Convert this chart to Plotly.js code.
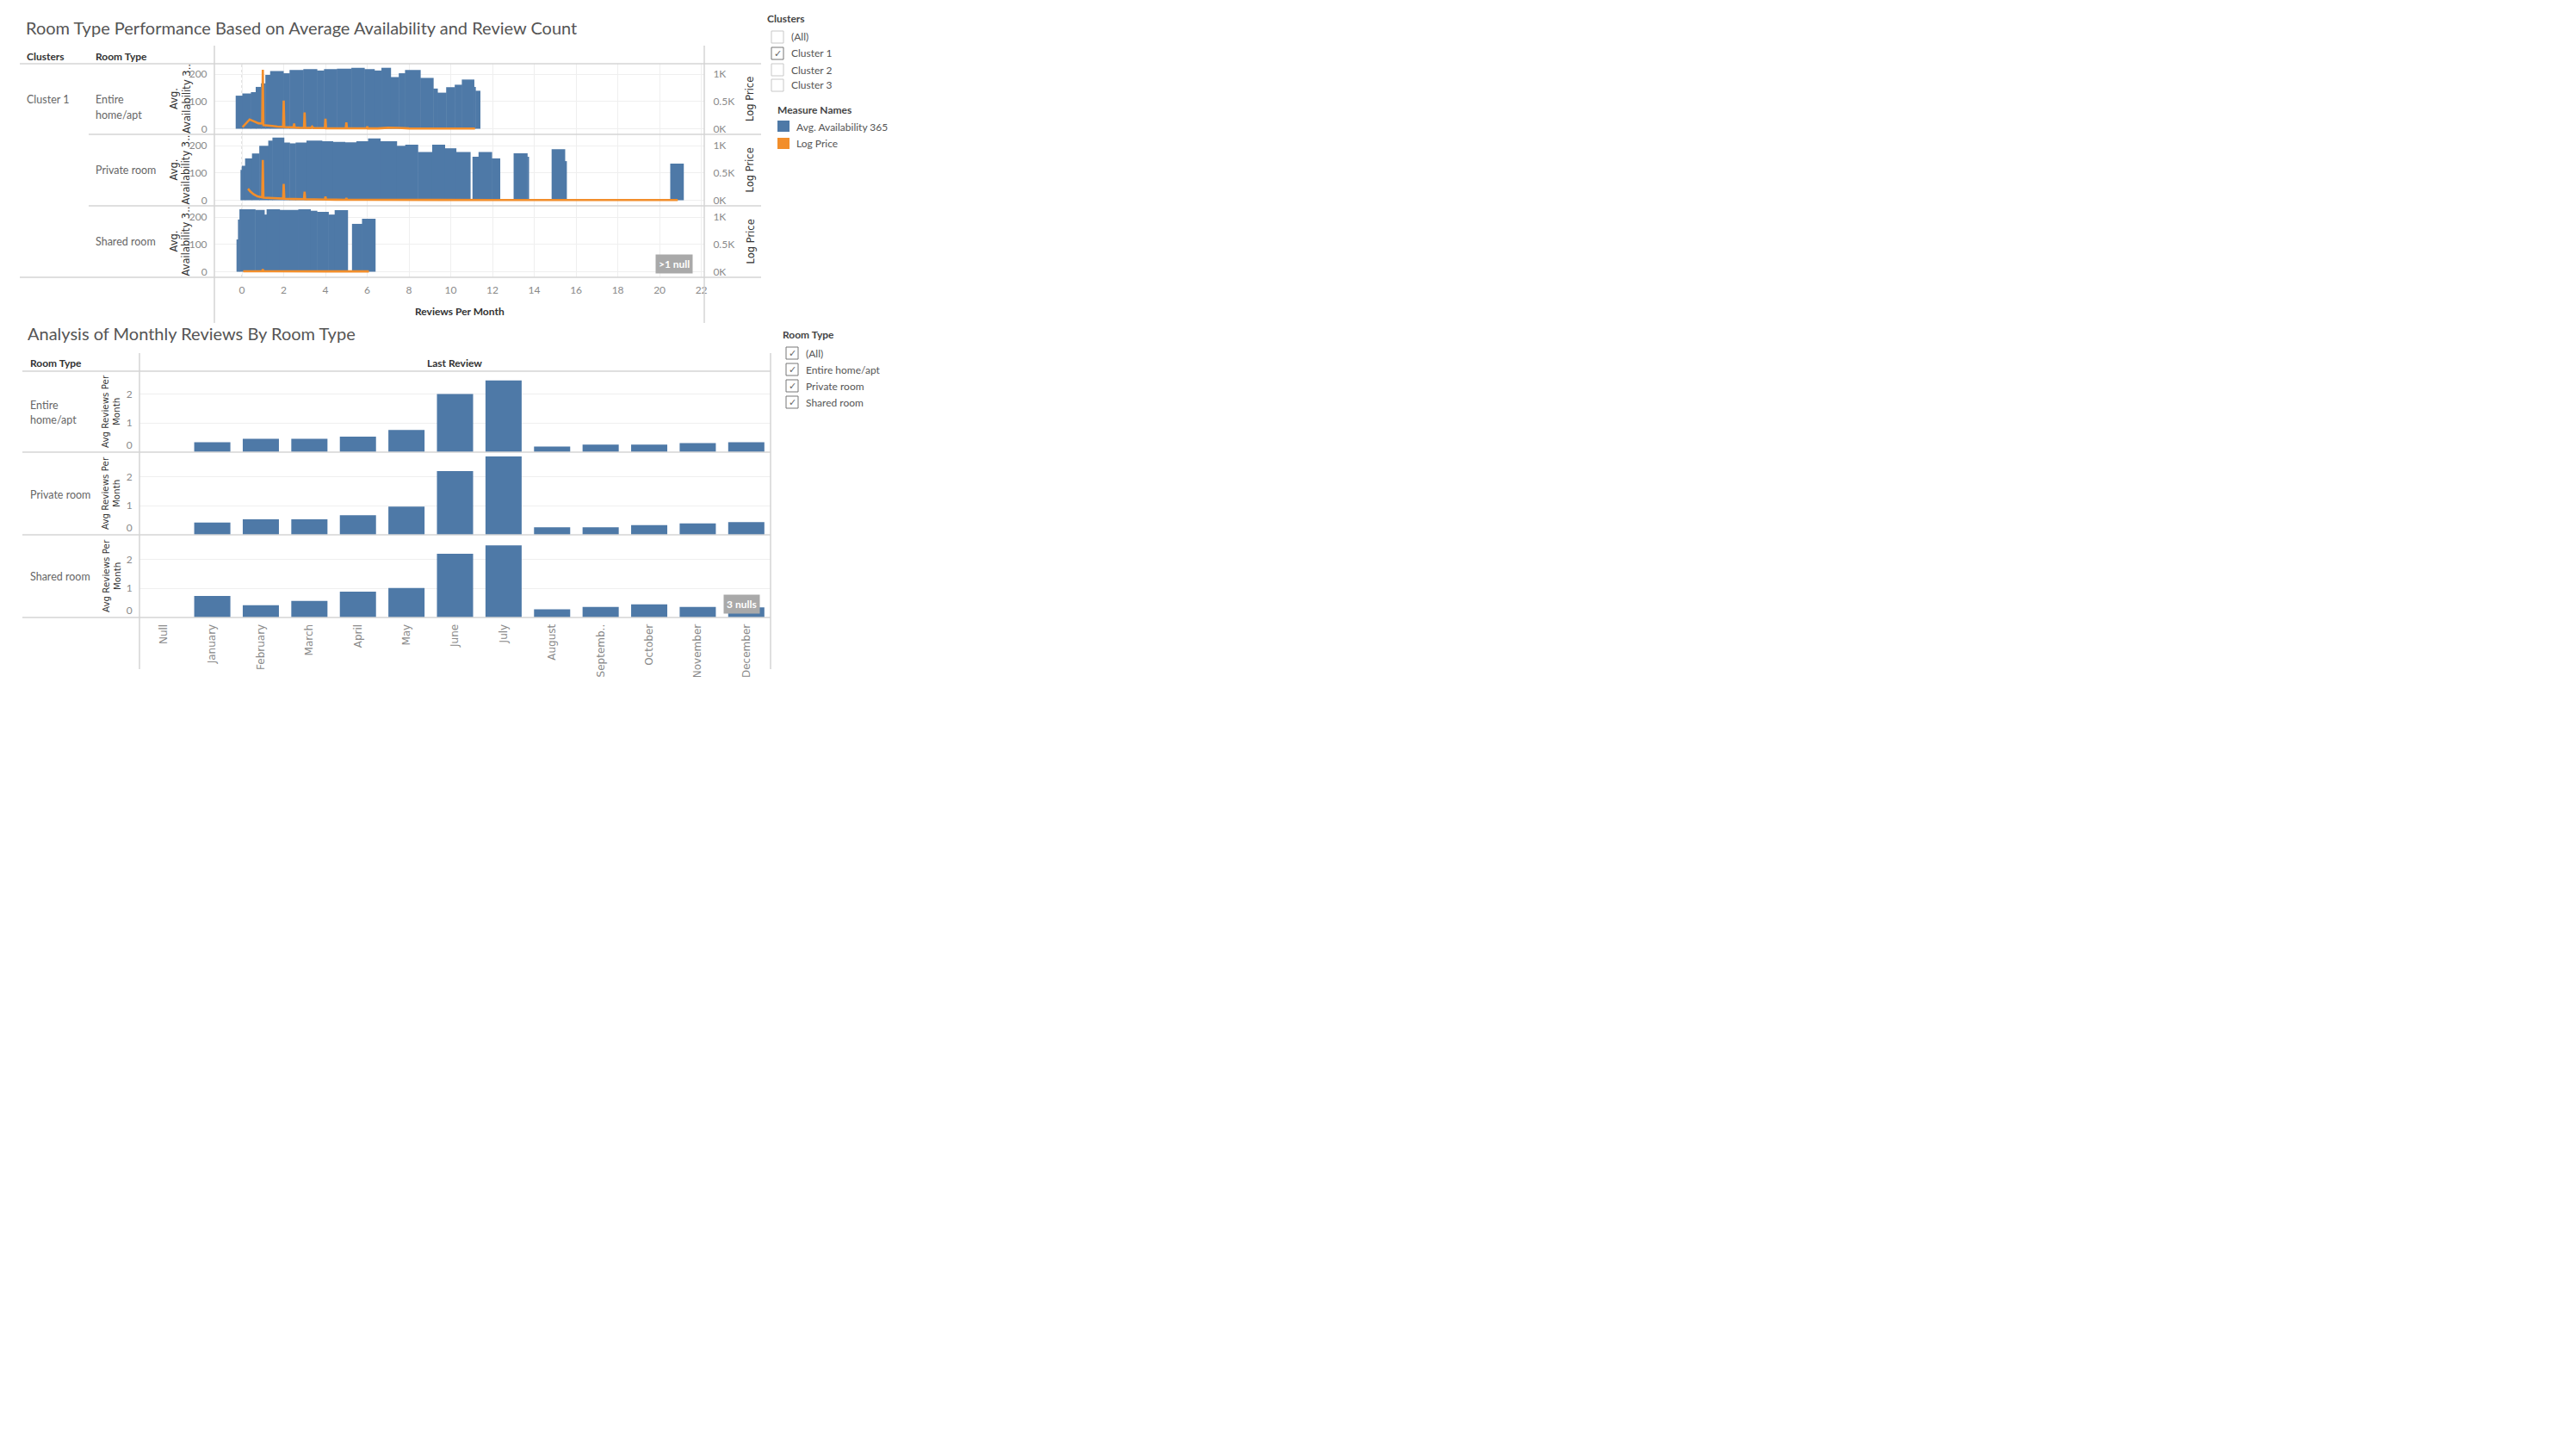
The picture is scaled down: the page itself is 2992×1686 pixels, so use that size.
<!DOCTYPE html>
<html><head><meta charset="utf-8">
<script src="https://cdn.plot.ly/plotly-3.0.1.min.js"></script>
<style>html,body{margin:0;padding:0;background:#fff;}#chart{width:2992px;height:1686px;}</style>
</head><body><div id="chart"></div>
<script>
// ---------- DATA ----------
// Top chart: Avg. Availability 365 by Reviews Per Month (step segments: from, to, value)
const entireFrom  = [-0.29,0.03,0.44,0.67,0.92,1.13,1.36,1.99,2.29,2.95,3.60,3.94,4.56,5.25,5.87,6.35,6.69,7.13,7.52,7.82,8.55,9.17,9.37,9.79,10.20,10.54,11.12,11.19];
const entireTo    = [0.03,0.44,0.67,0.92,1.13,1.36,1.99,2.29,2.95,3.60,3.94,4.56,5.25,5.87,6.35,6.69,7.13,7.52,7.82,8.55,9.17,9.37,9.79,10.20,10.54,11.12,11.19,11.41];
const entireAvail = [121,129,134,153,166,197,211,203,215,218,213,218,220,223,218,213,223,189,203,215,186,147,132,152,161,180,153,139];

const privateFrom  = [-0.06,0.0,0.16,0.49,0.84,1.27,1.47,2.02,2.29,2.58,3.10,3.84,4.36,4.94,5.49,6.05,6.63,7.42,7.83,8.43,9.12,9.72,10.26,11.05,11.34,11.97,13.02,13.67,14.84,15.47,20.52];
const privateTo    = [0.0,0.16,0.49,0.84,1.27,1.47,2.02,2.29,2.58,3.10,3.84,4.36,4.94,5.49,6.05,6.63,7.42,7.83,8.43,9.12,9.72,10.26,10.94,11.34,11.97,12.36,13.67,13.74,15.47,15.55,21.15];
const privateAvail = [111,126,153,171,199,218,229,211,208,211,218,216,213,212,216,226,216,199,203,176,203,190,176,159,176,153,172,159,187,143,134];

const sharedFrom  = [-0.25,-0.18,-0.11,0.64,1.08,1.19,1.81,2.71,3.29,3.60,4.15,4.45,5.28,5.76];
const sharedTo    = [-0.18,-0.11,0.64,1.08,1.19,1.81,2.71,3.29,3.60,4.15,4.45,5.07,5.76,6.39];
const sharedAvail = [118,191,228,226,209,228,226,228,223,219,209,225,175,194];

// Log Price line
const entireLogX = [0.03,0.2,0.37,0.55,0.79,0.97,1.0,1.03,1.2,1.45,1.7,1.97,2.0,2.03,2.25,2.47,2.5,2.53,2.75,2.97,3.0,3.03,3.3,3.36,3.42,3.7,3.97,4.0,4.03,4.4,4.97,5.0,5.03,5.5,5.97,6.0,6.03,6.5,7.0,7.5,8.0,9.0,10.0,11.16];
const entireLogPrice = [30,100,170,140,100,95,1080,65,55,50,40,35,517,30,28,25,95,22,18,16,297,15,14,40,13,12,11,185,10,9,8,117,8,7,7,40,6,6,18,15,6,5,5,5];
const privateLogX = [0.29,0.4,0.55,0.75,0.97,1.0,1.03,1.4,1.7,1.97,2.0,2.03,2.5,2.97,3.0,3.03,3.5,3.97,4.0,4.03,4.5,4.97,5.0,5.03,6.0,7.0,8.0,10.0,12.0,14.0,16.0,18.0,20.87];
const privateLogPrice = [211,160,110,70,52,735,48,42,35,30,299,28,22,20,154,18,15,12,67,12,10,9,42,8,8,6,5,5,4,4,4,4,4];
const sharedLogX = [0.06,0.5,0.97,1.0,1.03,1.5,2.0,3.0,4.0,5.0,6.08];
const sharedLogPrice = [8,8,8,46,8,7,9,7,6,6,6];

const reviewTicks = [0,2,4,6,8,10,12,14,16,18,20,22];
const availTicks = [0,100,200];
const priceTicks = [0,500,1000];
const priceTickText = ['0K','0.5K','1K'];

// Bottom chart: Avg Reviews Per Month by month of Last Review
const months = ['Null','January','February','March','April','May','June','July','August','September','October','November','December'];
const monthLabels = ['Null','January','February','March','April','May','June','July','August','Septemb..','October','November','December'];
const entireReviews  = [null,0.34,0.46,0.46,0.53,0.76,2.00,2.46,0.19,0.26,0.26,0.31,0.34];
const privateReviews = [null,0.42,0.53,0.53,0.67,0.97,2.19,2.69,0.26,0.26,0.33,0.39,0.44];
const sharedReviews  = [null,0.74,0.42,0.57,0.89,1.01,2.19,2.48,0.28,0.36,0.45,0.36,0.35];
const reviewValTicks = [1,2];
const reviewZeroTick = [0];

// ---------- LAYOUT HELPERS ----------
const W = 2992, H = 1686;
const X = v => v / W, Y = v => 1 - v / H;
const BLUE = '#4e79a7', ORANGE = '#f28e2b', LINE = '#d4d4d4', GRID = '#efefef';

const stepBars = (from, to, vals, ya) => ({
  type:'bar', x: from.map((f,i)=>(f+to[i])/2), width: from.map((f,i)=>to[i]-f+0.02),
  y: vals, xaxis:'x', yaxis: ya, marker:{color:BLUE, line:{width:0}}, hoverinfo:'skip'
});
const priceLine = (xs, ys, ya) => ({
  type:'scatter', mode:'lines', x: xs, y: ys, xaxis:'x', yaxis: ya,
  line:{color:ORANGE, width:2.6}, hoverinfo:'skip'
});
const monthBars = (vals, ya) => ({
  type:'bar', x: months, y: vals, xaxis:'x2', yaxis: ya, marker:{color:BLUE, line:{width:0}}, hoverinfo:'skip'
});

const data = [
  stepBars(entireFrom, entireTo, entireAvail, 'y'),
  stepBars(privateFrom, privateTo, privateAvail, 'y2'),
  stepBars(sharedFrom, sharedTo, sharedAvail, 'y3'),
  priceLine(entireLogX, entireLogPrice, 'y4'),
  priceLine(privateLogX, privateLogPrice, 'y5'),
  priceLine(sharedLogX, sharedLogPrice, 'y6'),
  monthBars(entireReviews, 'y7'),
  monthBars(privateReviews, 'y8'),
  monthBars(sharedReviews, 'y9')
];

const topRows = [[74,156],[156,239],[239,322]];
const botRows = [[431,525],[525,621],[621,717]];
const PXA = 0.3175, ZOFF = 6.5, PXR = 33.8;
const tickFont = {family:'Lato, sans-serif', size:12, color:'#8a8a8a'};

const layout = {
  width: W, height: H, margin:{l:0,r:0,t:0,b:0,pad:0},
  paper_bgcolor:'#ffffff', plot_bgcolor:'rgba(0,0,0,0)', showlegend:false,
  barmode:'overlay', bargap:0.255,
  font:{family:'Lato, sans-serif', color:'#666'},
  xaxis:{domain:[X(249),X(818)], anchor:'y3', range:[-1.32,22.14], tickvals:reviewTicks,
    showgrid:true, gridcolor:GRID, zeroline:false, showline:false,
    ticks:'outside', ticklen:4, tickcolor:'rgba(0,0,0,0)', tickfont:tickFont, fixedrange:true},
  xaxis2:{domain:[X(162),X(895)], anchor:'y9', type:'category', categoryorder:'array', categoryarray:months,
    range:[-0.5,12.5], tickvals:months, ticktext:monthLabels, tickangle:-90,
    showgrid:false, zeroline:false, showline:false, ticks:'outside', ticklen:2, tickcolor:'rgba(0,0,0,0)',
    tickfont:{family:'DejaVu Sans, sans-serif', size:12, color:'#8a8a8a'}},
  shapes:[], annotations:[]
};

topRows.forEach((r,i) => {
  const h = r[1]-r[0];
  const rng = [-ZOFF/PXA, (h-ZOFF)/PXA];
  const n = i+1, nr = i+4;
  layout['yaxis'+(n===1?'':n)] = {domain:[Y(r[1]),Y(r[0])], anchor:'x', range:rng, tickvals:availTicks,
    showgrid:true, gridcolor:GRID, zeroline:false, showline:false,
    ticks:'outside', ticklen:5, tickcolor:'rgba(0,0,0,0)', tickfont:tickFont, fixedrange:true};
  layout['yaxis'+nr] = {overlaying:(n===1?'y':'y'+n), side:'right', anchor:'x', range:rng.map(v=>v*5),
    tickvals:priceTicks, ticktext:priceTickText, showgrid:false, zeroline:false, showline:false,
    ticks:'outside', ticklen:7, tickcolor:'rgba(0,0,0,0)', tickfont:tickFont, fixedrange:true};
  const yr = (n===1?'y':'y'+n);
  layout.shapes.push({type:'line', xref:'x domain', x0:0, x1:1, yref:yr, y0:0, y1:0, layer:'below',
    line:{color:'#b5b5b5', width:1, dash:'dot'}});
  layout.shapes.push({type:'line', xref:'x', x0:0, x1:0, yref:yr+' domain', y0:0, y1:1, layer:'below',
    line:{color:'#c5c5c5', width:1, dash:'dot'}});
});
botRows.forEach((r,i) => {
  const h = r[1]-r[0];
  const rng = [0,h/PXR];
  layout['yaxis'+(7+i)] = {domain:[Y(r[1]),Y(r[0])], anchor:'x2', range:rng, tickvals:reviewValTicks,
    showgrid:true, gridcolor:GRID, zeroline:false, showline:false,
    ticks:'outside', ticklen:5, tickcolor:'rgba(0,0,0,0)', tickfont:tickFont, fixedrange:true};
  // separate axis for the "0" label, lifted inside the pane like the original
  layout['yaxis'+(10+i)] = {overlaying:'y'+(7+i), side:'left', anchor:'x2', range:rng, tickvals:reviewZeroTick,
    showgrid:false, zeroline:false, showline:false, ticklabelshift:-8,
    ticks:'outside', ticklen:5, tickcolor:'rgba(0,0,0,0)', tickfont:tickFont, fixedrange:true};
});
// empty traces so the zero-label axes are drawn
[10,11,12].forEach(k => data.push({type:'scatter', mode:'none', x:[months[0]], y:[null], xaxis:'x2', yaxis:'y'+k, hoverinfo:'skip'}));

// frame lines
const L = (x0,y0,x1,y1,c=LINE,w=1.5) => layout.shapes.push({type:'line', xref:'paper', yref:'paper',
  x0:X(x0), y0:Y(y0), x1:X(x1), y1:Y(y1), line:{color:c, width:w}});
L(249,53,249,375); L(818,53,818,375);
L(23,74,884,74); L(103,156,884,156); L(103,239,884,239); L(23,322,884,322);
L(162,410,162,777); L(895,410,895,777);
L(26,431,895,431); L(26,525,895,525); L(26,621,895,621); L(26,717,895,717);

// annotations
const A = (x,y,text,o={}) => layout.annotations.push(Object.assign({xref:'paper', yref:'paper',
  x:X(x), y:Y(y), text, showarrow:false, xanchor:'left', yanchor:'middle',
  font:{family:'Lato, sans-serif', size:12.5, color:'#666'}}, o));
const hdr = {family:'Lato, sans-serif', size:12, color:'#333'};
const rot = {family:'DejaVu Sans, sans-serif', size:11.5, color:'#333'};

A(28,32,'Room Type Performance Based on Average Availability and Review Count',{font:{family:'Lato, sans-serif', size:20, color:'#555'}});
A(29,66,'<b>Clusters</b>',{font:hdr});
A(109,66,'<b>Room Type</b>',{font:hdr});
A(29,115,'Cluster 1');
A(109,115,'Entire'); A(109,133,'home/apt');
A(109,197,'Private room');
A(109,280,'Shared room');
[115,197.5,280.5].forEach(c => {
  A(209,c,'Avg.<br>Availability 3..',{xanchor:'center', textangle:-90, font:rot});
  A(871,c,'Log Price',{xanchor:'center', textangle:-90, font:rot});
});
A(534,361,'<b>Reviews Per Month</b>',{xanchor:'center', font:hdr});
A(783.5,306.5,'<b>>1 null</b>',{xanchor:'center', bgcolor:'#a9a9a9', borderpad:3,
  font:{family:'Lato, sans-serif', size:12, color:'#ffffff'}});

A(30,387,'Analysis of Monthly Reviews By Room Type',{font:{family:'Lato, sans-serif', size:20, color:'#555'}});
A(33,422,'<b>Room Type</b>',{font:hdr});
A(528,421,'<b>Last Review</b>',{xanchor:'center', font:hdr});
A(33,470,'Entire'); A(33,487,'home/apt');
A(33,574,'Private room');
A(33,669,'Shared room');
[478,573,669].forEach(c => A(129,c,'Avg Reviews Per<br>Month',{xanchor:'center', textangle:-90,
  font:{family:'DejaVu Sans, sans-serif', size:10.3, color:'#333'}}));
A(861.5,701.5,'<b>3 nulls</b>',{xanchor:'center', bgcolor:'#a9a9a9', borderpad:3,
  font:{family:'Lato, sans-serif', size:12, color:'#ffffff'}});

// legends / filters
const legText = {family:'Lato, sans-serif', size:12, color:'#555'};
const box = (x,y,checked) => {
  layout.shapes.push({type:'rect', xref:'paper', yref:'paper', x0:X(x), x1:X(x+14), y0:Y(y+14), y1:Y(y),
    line:{color: checked ? '#777' : '#c8c8c8', width:1}, fillcolor:'#fff'});
  if (checked) A(x+7, y+7.5, '✓', {xanchor:'center', font:{family:'DejaVu Sans, sans-serif', size:11, color:'#666'}});
};
A(889,21,'<b>Clusters</b>',{font:{family:'Lato, sans-serif', size:12, color:'#444'}});
box(896,36,false); A(917,43,'(All)',{font:legText});
box(896,55,true);  A(917,62,'Cluster 1',{font:legText});
box(896,74,false); A(917,81,'Cluster 2',{font:legText});
box(896,92,false); A(917,99,'Cluster 3',{font:legText});
A(901,127,'<b>Measure Names</b>',{font:{family:'Lato, sans-serif', size:12, color:'#444'}});
layout.shapes.push({type:'rect', xref:'paper', yref:'paper', x0:X(903), x1:X(917), y0:Y(153), y1:Y(140), line:{width:0}, fillcolor:BLUE});
layout.shapes.push({type:'rect', xref:'paper', yref:'paper', x0:X(903), x1:X(917), y0:Y(173), y1:Y(160), line:{width:0}, fillcolor:ORANGE});
A(923,147,'Avg. Availability 365',{font:legText});
A(923,166,'Log Price',{font:legText});

A(907,388,'<b>Room Type</b>',{font:{family:'Lato, sans-serif', size:12, color:'#444'}});
box(913,403,true); A(934,410,'(All)',{font:legText});
box(913,422,true); A(934,429,'Entire home/apt',{font:legText});
box(913,441,true); A(934,448,'Private room',{font:legText});
box(913,460,true); A(934,467,'Shared room',{font:legText});

Plotly.newPlot('chart', data, layout, {staticPlot:true, displayModeBar:false});
</script>
</body></html>
